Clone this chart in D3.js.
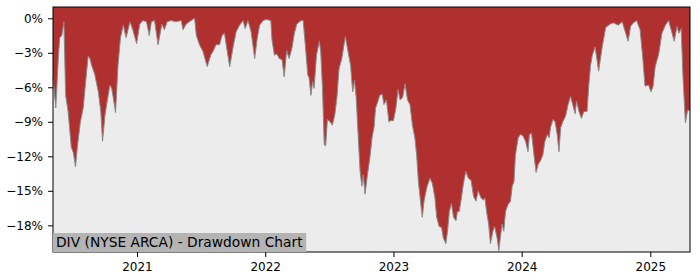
<!DOCTYPE html>
<html>
<head>
<meta charset="utf-8">
<script src="https://cdn.jsdelivr.net/npm/d3@7"></script>
<style>
  body { margin: 0; background: #fff; }
  svg { display: block; font-family: "DejaVu Sans", sans-serif; }
</style>
</head>
<body>
<svg id="chart" width="700" height="280"></svg>
<script>
// drawdown, in percent
const dates = [
  "2020-05-07","2020-05-15","2020-05-22","2020-05-26","2020-06-01","2020-06-07","2020-06-12","2020-06-19","2020-06-28","2020-07-04",
  "2020-07-10","2020-07-16","2020-07-24","2020-08-01","2020-08-08","2020-08-15","2020-08-20","2020-08-25","2020-09-03","2020-09-13",
  "2020-09-20","2020-09-25","2020-10-02","2020-10-11","2020-10-16","2020-10-21","2020-10-25","2020-11-01","2020-11-08","2020-11-15",
  "2020-11-23","2020-12-01","2020-12-12","2020-12-19","2020-12-31","2021-01-09","2021-01-18","2021-01-28","2021-02-05","2021-02-11",
  "2021-02-20","2021-03-02","2021-03-13","2021-03-20","2021-03-28","2021-04-08","2021-04-22","2021-05-07","2021-05-12","2021-05-21",
  "2021-06-04","2021-06-14","2021-06-19","2021-06-28","2021-07-08","2021-07-20","2021-07-30","2021-08-05","2021-08-14","2021-08-24",
  "2021-08-31","2021-09-07","2021-09-15","2021-09-22","2021-10-01","2021-10-10","2021-10-20","2021-10-30","2021-11-05","2021-11-13",
  "2021-11-22","2021-12-02","2021-12-09","2021-12-16","2021-12-26","2022-01-04","2022-01-17","2022-01-20","2022-01-27","2022-02-03",
  "2022-02-10","2022-02-18","2022-02-24","2022-03-03","2022-03-10","2022-03-18","2022-03-25","2022-04-01","2022-04-13","2022-04-19",
  "2022-04-25","2022-05-02","2022-05-06","2022-05-11","2022-05-16","2022-05-20","2022-05-27","2022-06-04","2022-06-08","2022-06-13",
  "2022-06-18","2022-06-22","2022-06-27","2022-07-05","2022-07-11","2022-07-18","2022-07-24","2022-07-30","2022-08-07","2022-08-17",
  "2022-08-23","2022-09-01","2022-09-07","2022-09-12","2022-09-17","2022-09-21","2022-09-28","2022-10-03","2022-10-07","2022-10-12",
  "2022-10-19","2022-10-26","2022-11-01","2022-11-07","2022-11-11","2022-11-18","2022-11-23","2022-11-30","2022-12-05","2022-12-12",
  "2022-12-19","2022-12-24","2023-01-01","2023-01-08","2023-01-14","2023-01-20","2023-01-27","2023-02-03","2023-02-10","2023-02-17",
  "2023-02-24","2023-03-03","2023-03-08","2023-03-13","2023-03-20","2023-03-24","2023-03-29","2023-04-06","2023-04-15","2023-04-22",
  "2023-04-29","2023-05-04","2023-05-11","2023-05-18","2023-05-23","2023-05-30","2023-06-04","2023-06-09","2023-06-15","2023-06-21",
  "2023-06-28","2023-07-02","2023-07-07","2023-07-14","2023-07-19","2023-07-26","2023-08-02","2023-08-10","2023-08-17","2023-08-24",
  "2023-08-30","2023-09-07","2023-09-14","2023-09-18","2023-09-24","2023-09-29","2023-10-04","2023-10-11","2023-10-16","2023-10-23",
  "2023-10-28","2023-11-01","2023-11-06","2023-11-11","2023-11-16","2023-11-23","2023-11-30","2023-12-05","2023-12-10","2023-12-14",
  "2023-12-22","2023-12-28","2024-01-04","2024-01-12","2024-01-19","2024-01-23","2024-01-29","2024-02-05","2024-02-11","2024-02-17",
  "2024-02-23","2024-03-01","2024-03-07","2024-03-14","2024-03-19","2024-03-23","2024-03-30","2024-04-05","2024-04-11","2024-04-16",
  "2024-04-21","2024-04-27","2024-05-05","2024-05-12","2024-05-19","2024-05-26","2024-06-01","2024-06-05","2024-06-12","2024-06-19",
  "2024-06-26","2024-07-05","2024-07-10","2024-07-15","2024-07-20","2024-07-28","2024-08-07","2024-08-16","2024-08-27","2024-09-09",
  "2024-09-18","2024-10-02","2024-10-13","2024-10-21","2024-10-30","2024-11-06","2024-11-14","2024-11-23","2024-12-03","2024-12-11",
  "2024-12-17","2024-12-27","2025-01-03","2025-01-09","2025-01-15","2025-01-25","2025-02-03","2025-02-13","2025-02-22","2025-03-04",
  "2025-03-10","2025-03-18","2025-03-23","2025-03-30","2025-04-04","2025-04-11","2025-04-17","2025-04-24"
];

const drawdown = [
  -5.1,-7.8,-3.5,-1.7,-1.5,-0.3,-6.7,-8.1,-11.2,-11.7,
  -12.9,-11.0,-9.0,-7.8,-5.5,-3.3,-3.5,-4.1,-4.9,-6.4,
  -8.1,-10.7,-8.4,-6.7,-5.8,-6.1,-6.8,-8.2,-4.1,-1.7,
  -0.6,-1.7,-0.3,-0.9,-2.2,-0.5,-0.2,-0.3,-1.5,-0.3,
  -0.2,-2.3,-0.5,-1.0,-0.3,-0.2,-0.3,-0.2,-1.0,-0.5,
  -0.2,0,-1.5,-2.3,-2.9,-4.2,-3.2,-2.9,-2.3,-2.3,
  -1.5,-1.3,-2.9,-4.2,-2.6,-1.2,-0.6,-0.2,-0.9,-0.2,
  -1.2,-3.5,-1.8,-0.6,-0.2,-0.1,-0.2,-1.8,-3.2,-3.1,
  -3.5,-3.6,-5.1,-2.8,-3.5,-2.6,-1.3,-0.5,-0.2,-0.2,
  -2.3,-4.9,-5.2,-6.7,-5.5,-6.1,-3.2,-2.0,-2.9,-6.1,
  -11.0,-11.1,-8.8,-9.0,-9.3,-8.4,-6.9,-4.4,-3.5,-1.6,
  -2.6,-4.1,-6.4,-5.4,-6.9,-9.3,-13.3,-14.6,-13.6,-15.3,
  -13.6,-12.1,-10.4,-9.4,-7.8,-7.2,-6.7,-6.6,-7.5,-7.1,
  -9.0,-8.9,-8.9,-7.8,-6.2,-7.1,-6.9,-5.7,-7.1,-7.5,
  -9.3,-10.4,-11.9,-14.2,-16.2,-17.3,-15.9,-14.7,-13.9,-14.4,
  -15.6,-17.3,-18.1,-18.2,-19.1,-19.6,-18.5,-16.8,-16.1,-17.3,
  -17.6,-16.8,-16.8,-15.5,-14.4,-13.3,-13.9,-14.1,-15.5,-15.9,
  -15.0,-15.6,-15.8,-15.6,-17.0,-17.9,-19.6,-18.5,-18.1,-19.1,
  -20.2,-19.1,-17.9,-18.5,-16.8,-16.2,-15.9,-14.6,-14.2,-11.9,
  -10.4,-10.1,-10.2,-10.7,-11.6,-10.1,-10.0,-11.9,-13.4,-12.7,
  -12.4,-11.9,-10.7,-10.1,-10.4,-9.5,-8.8,-9.0,-10.1,-11.6,
  -9.5,-9.0,-8.5,-7.5,-6.8,-7.6,-8.3,-7.2,-8.1,-8.7,
  -8.1,-8.1,-5.8,-4.1,-3.2,-2.5,-4.6,-2.7,-0.8,-0.5,
  -0.4,-0.6,-0.3,-1.1,-2.0,-0.7,-0.4,-0.2,-1.0,-3.6,
  -5.9,-5.8,-6.4,-5.9,-4.2,-3.1,-1.3,-0.6,-0.2,-1.3,
  -2.0,-0.7,-1.3,-0.9,-5.1,-9.1,-8.0,-8.0
];

const yTicks = [0, -3, -6, -9, -12, -15, -18];
const yLimits = [-20.32, 0.98];
const title = "DIV (NYSE ARCA) - Drawdown Chart";

const parse = d3.timeParse("%Y-%m-%d");
const data = dates.map((d, i) => ({ date: parse(d), value: drawdown[i] }));

const svg = d3.select("#chart");
const plotL = 53, plotR = 690, plotT = 7, plotB = 252;

const x = d3.scaleTime()
  .domain(d3.extent(data, d => d.date))
  .range([plotL, plotR]);

const y = d3.scaleLinear()
  .domain(yLimits)
  .range([plotB, plotT]);

// plot background
svg.append("rect")
  .attr("x", plotL).attr("y", plotT)
  .attr("width", plotR - plotL).attr("height", plotB - plotT)
  .attr("fill", "#ececec");

// red fill from the top of the plot down to the drawdown curve
svg.append("path")
  .datum(data)
  .attr("fill", "#b03030")
  .attr("d", d3.area()
    .x(d => x(d.date))
    .y0(plotT)
    .y1(d => y(d.value)));

svg.append("path")
  .datum(data)
  .attr("fill", "none")
  .attr("stroke", "#8a8a8a")
  .attr("stroke-width", 1)
  .attr("d", d3.line()
    .x(d => x(d.date))
    .y(d => y(d.value)));

// axes
const fmtPct = d => (d < 0 ? "\u2212" : "") + Math.abs(d) + "%";

const gx = svg.append("g")
  .attr("transform", `translate(0,${plotB})`)
  .call(d3.axisBottom(x)
    .ticks(d3.timeYear.every(1))
    .tickFormat(d3.timeFormat("%Y"))
    .tickSize(5)
    .tickPadding(5));

const gy = svg.append("g")
  .attr("transform", `translate(${plotL},0)`)
  .call(d3.axisLeft(y)
    .tickValues(yTicks)
    .tickFormat(fmtPct)
    .tickSize(5)
    .tickPadding(5));

[gx, gy].forEach(g => {
  g.select(".domain").remove();
  g.selectAll("text")
    .attr("fill", "#000")
    .style("font-size", "12px")
    .style("font-family", "DejaVu Sans");
  g.selectAll("line").attr("stroke", "#000");
});

// frame
svg.append("rect")
  .attr("x", plotL).attr("y", plotT)
  .attr("width", plotR - plotL).attr("height", plotB - plotT)
  .attr("fill", "none")
  .attr("stroke", "#000")
  .attr("stroke-width", 1);

// title label, bottom left
const labelBox = svg.append("rect")
  .attr("x", plotL)
  .attr("y", plotB - 19)
  .attr("height", 19)
  .attr("fill", "#b4b4b4");

const label = svg.append("text")
  .attr("x", plotL + 3)
  .attr("y", plotB - 5)
  .style("font-size", "13.8px")
  .attr("fill", "#000")
  .text(title);

const bb = label.node().getBBox();
labelBox.attr("width", bb.x + bb.width + 3 - plotL);
</script>
</body>
</html>
